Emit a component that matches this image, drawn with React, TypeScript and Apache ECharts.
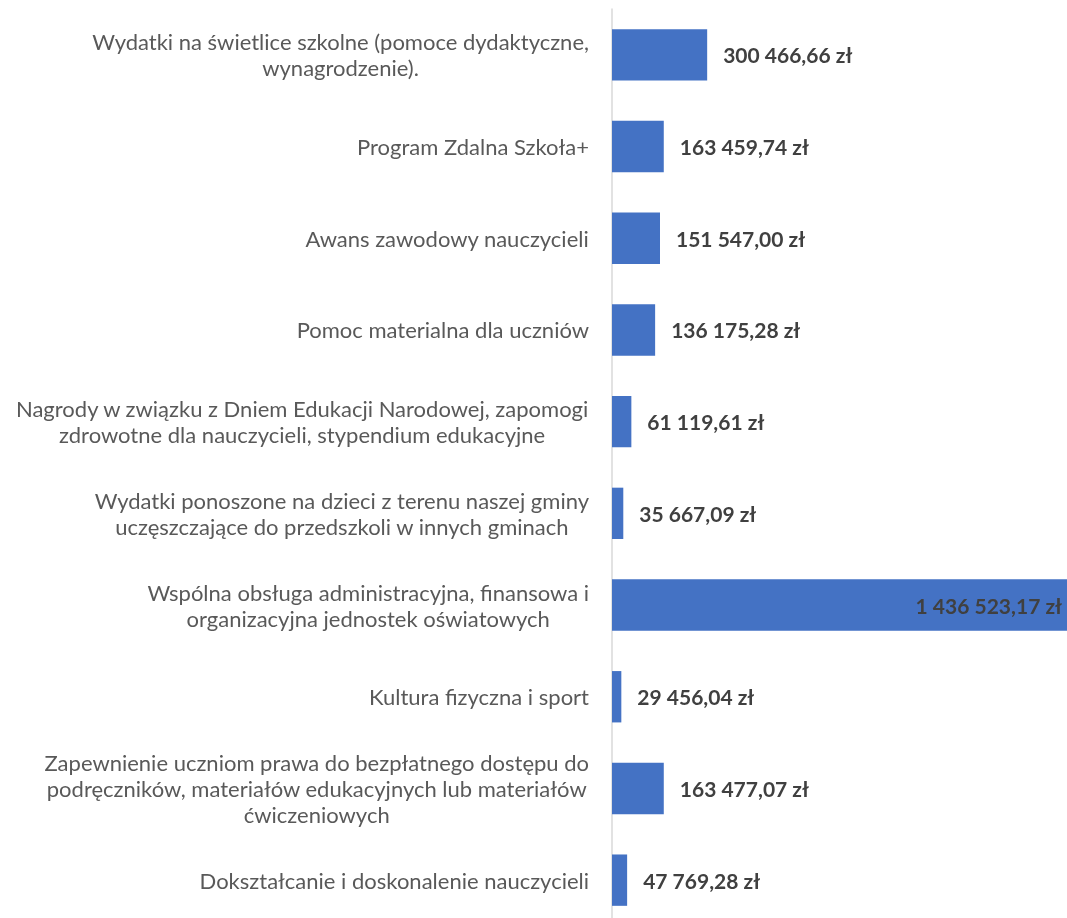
import React, { useEffect, useRef } from "react";
import * as echarts from "echarts";

const categories: string[] = [
  "Wydatki na świetlice szkolne (pomoce dydaktyczne,\nwynagrodzenie).",
  "Program Zdalna Szkoła+",
  "Awans zawodowy nauczycieli",
  "Pomoc materialna dla uczniów",
  "Nagrody w związku z Dniem Edukacji Narodowej, zapomogi\nzdrowotne dla nauczycieli, stypendium edukacyjne",
  "Wydatki ponoszone na dzieci z terenu naszej gminy\nuczęszczające do przedszkoli w innych gminach",
  "Wspólna obsługa administracyjna, finansowa i\norganizacyjna jednostek oświatowych",
  "Kultura fizyczna i sport",
  "Zapewnienie uczniom prawa do bezpłatnego dostępu do\npodręczników, materiałów edukacyjnych lub materiałów\nćwiczeniowych",
  "Dokształcanie i doskonalenie nauczycieli",
];

const values: number[] = [
  300466.66, 163459.74, 151547.0, 136175.28, 61119.61, 35667.09, 1436523.17,
  29456.04, 163477.07, 47769.28,
];

function formatPLN(v: number): string {
  const [intPart, dec] = v.toFixed(2).split(".");
  const withSpaces = intPart.replace(/\B(?=(\d{3})+(?!\d))/g, " ");
  return `${withSpaces},${dec} zł`;
}

const FONT = "Lato, 'Open Sans', sans-serif";

export default function App() {
  const ref = useRef<HTMLDivElement>(null);
  useEffect(() => {
    if (!ref.current) return;
    const chart = echarts.init(ref.current, undefined, { renderer: "svg" });
    const maxVal = Math.max(...values);
    chart.setOption({
      animation: false,
      grid: { left: 612, right: 0, top: 9, bottom: 9, containLabel: false },
      xAxis: {
        type: "value",
        min: 0,
        max: maxVal,
        show: false,
      },
      yAxis: {
        type: "category",
        inverse: true,
        data: categories,
        axisLine: { show: true, lineStyle: { color: "#d9d9d9", width: 1.5 } },
        axisTick: { show: false },
        splitLine: { show: false },
        axisLabel: {
          margin: 23,
          align: "right",
          formatter: (val: string) =>
            val
              .split("\n")
              .map((l) => `{a|${l}}`)
              .join("\n"),
          rich: {
            a: {
              align: "center",
              fontFamily: FONT,
              fontSize: 22,
              lineHeight: 26,
              color: "#595959",
            },
          },
        },
      },
      series: [
        {
          type: "bar",
          barWidth: "56%",
          data: values.map((v) =>
            v === maxVal
              ? {
                  value: v,
                  label: { position: "insideRight", distance: 5 },
                }
              : { value: v }
          ),
          itemStyle: { color: "#4472c4" },
          label: {
            show: true,
            position: "right",
            distance: 16,
            formatter: (p: any) => formatPLN(p.value),
            fontFamily: FONT,
            fontWeight: "bold",
            fontSize: 21,
            color: "#404040",
          },
        },
      ],
    });
    return () => chart.dispose();
  }, []);
  return (
    <div
      style={{
        position: "fixed",
        left: 0,
        top: 0,
        width: 1067,
        height: 918,
        overflow: "hidden",
      }}
    >
      <div ref={ref} style={{ width: 1067, height: 935 }} />
    </div>
  );
}
